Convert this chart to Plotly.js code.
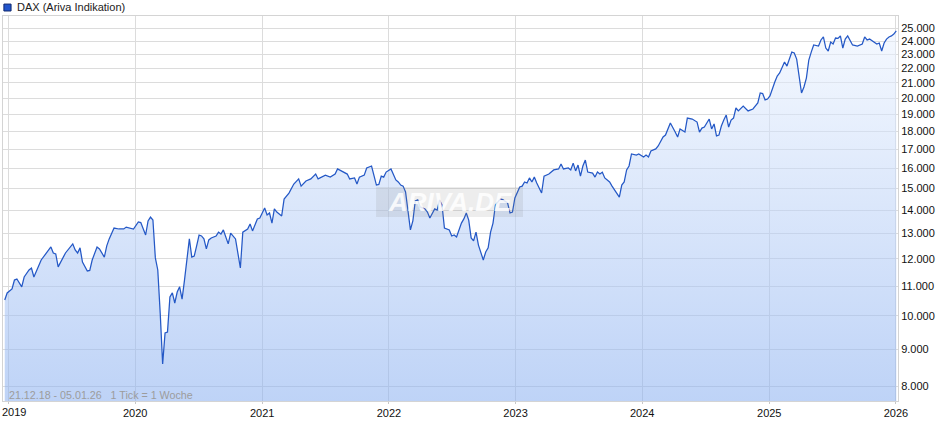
<!DOCTYPE html>
<html>
<head>
<meta charset="utf-8">
<script src="https://cdn.plot.ly/plotly-3.0.1.min.js"></script>
<style>html,body{margin:0;padding:0;background:#fff;}#chart{width:940px;height:435px;}</style>
</head>
<body>
<div id="chart"></div>
<script>
// Weekly DAX points (week index counted from 21.12.2018) and index level
const startDate = '2018-12-21';
const weekIdx = [0,1,3,4,5,7,8,10,11,12,15,17,19,20,21,22,24,25,28,29,30,31,32,34,35,36,38,39,41,42,43,45,47,49,50,52,53,55,56,58,59,60,61,62,63,64,65,66,67,68,69,70,71,72,73,74,75,76,77,78,79,80,81,82,83,84,85,86,87,88,89,90,92,93,95,97,98,100,101,102,104,105,107,108,109,110,111,112,114,115,117,119,121,122,124,126,128,129,131,132,134,136,137,140,141,142,144,145,146,148,149,151,153,154,155,156,157,159,161,162,163,164,165,167,168,169,170,171,173,174,175,177,178,179,180,181,183,184,185,186,188,189,190,191,192,193,194,195,197,198,199,200,201,202,204,205,207,208,209,210,212,213,214,215,216,217,218,219,221,222,224,226,228,229,230,232,233,234,235,236,237,238,239,240,242,243,244,245,246,247,249,250,252,253,254,255,256,257,258,260,261,263,264,265,266,268,269,271,272,274,276,277,278,280,281,283,285,286,287,288,290,291,292,293,294,295,296,297,298,299,300,301,302,303,304,306,308,310,311,312,313,314,315,317,318,319,321,322,323,324,325,326,328,329,330,331,332,333,335,336,337,338,339,340,341,342,343,344,345,346,347,348,349,351,353,354,355,356,358,359,360,361,362,363,364,365,366,367];
const daxValues = [10520,10760,10900,11210,11250,10970,11320,11575,11650,11320,11950,12220,12455,12220,12180,11690,12060,12220,12580,12336,12220,12420,11870,11540,11560,11950,12455,12380,12060,12500,12780,13230,13190,13190,13270,13230,13190,13490,13460,12940,13530,13700,13570,12030,11575,10090,8580,9470,9500,10620,10760,10420,10790,10970,10550,11210,11870,12780,12060,12100,12500,12940,12900,12780,12380,12740,12820,12860,12900,13060,12980,13150,12580,13020,12780,11650,13060,13190,13400,13110,13620,13660,14100,13790,13880,13440,14060,13920,13750,14510,14790,15220,15470,15120,15370,15470,15710,15470,15610,15660,15560,15710,15970,15760,15710,15470,15520,15220,15560,15660,16020,16120,15170,15200,15610,15560,15810,15970,15420,15320,15170,15120,14840,13150,13530,14420,14470,14150,14060,13920,13660,14060,14010,14470,14240,13230,13150,12900,12940,12860,13440,13620,13880,13570,12820,12700,13060,12530,11950,12260,12420,13060,13440,14240,14510,14480,14330,13880,13920,14560,15080,15120,15320,15270,15520,15320,15560,15270,14790,15610,15710,15920,15970,16220,15970,16020,15920,16270,15870,16170,15610,16120,16430,15810,15760,15560,15810,15710,15800,15520,15320,15120,14790,14600,15170,15320,15920,16120,16750,16690,16750,16590,16690,16590,16910,17020,17180,17680,17790,18490,17960,17680,18140,17960,18780,18720,18540,17960,18190,18250,18720,18140,18430,17740,17790,18310,18660,18960,18250,18660,18780,19390,19210,19390,19510,19210,19330,19700,20340,20300,19890,19950,20150,21060,21470,21680,22450,22160,22590,23170,23100,22660,20340,20730,21330,22590,23170,23700,23620,24080,24310,23470,23250,23920,23770,24230,24200,24390,23470,24150,24390,24000,23700,23620,23770,24310,24080,24150,23920,23770,23850,23250,23850,24150,24310,24390,24540,24780];

const yearTicks = ['2019-01-01','2020-01-01','2021-01-01','2022-01-01','2023-01-01','2024-01-01','2025-01-01','2026-01-01'];
const yearLabels = ['2019','2020','2021','2022','2023','2024','2025','2026'];
const priceTicks = [8000,9000,10000,11000,12000,13000,14000,15000,16000,17000,18000,19000,20000,21000,22000,23000,24000,25000];
const priceLabels = ['8.000','9.000','10.000','11.000','12.000','13.000','14.000','15.000','16.000','17.000','18.000','19.000','20.000','21.000','22.000','23.000','24.000','25.000'];
const xRange = ['2018-12-16','2026-01-07'];
const yRangeVals = [7627, 25990];
const baseLevel = 7000;
const legendText = 'DAX (Ariva Indikation)';
const footText = '21.12.18 - 05.01.26\u00a0\u00a0\u00a01 Tick = 1 Woche';

const t0 = Date.UTC(2018, 11, 21);
const dates = weekIdx.map(w => new Date(t0 + w * 7 * 86400000).toISOString().slice(0, 10));
// first year label sits at the left edge: drawn as an annotation so it stays fully visible
const axisTickText = yearLabels.map((s, i) => i === 0 ? '' : s);

const base = {
  x: [dates[0], dates[dates.length - 1]],
  y: [baseLevel, baseLevel],
  type: 'scatter', mode: 'lines',
  line: {width: 0, color: 'rgba(0,0,0,0)'},
  hoverinfo: 'skip', showlegend: false
};
const dax = {
  x: dates, y: daxValues,
  type: 'scatter', mode: 'lines',
  line: {color: '#2458c6', width: 1.25},
  fill: 'tonexty',
  fillgradient: {
    type: 'vertical',
    start: yRangeVals[0], stop: yRangeVals[1],
    colorscale: [[0, 'rgba(137,175,240,0.55)'], [1, 'rgba(240,246,255,0.55)']]
  },
  showlegend: false, name: 'DAX'
};

const layout = {
  width: 940, height: 435,
  margin: {l: 3, r: 42, t: 16, b: 34, pad: 0},
  paper_bgcolor: '#ffffff', plot_bgcolor: '#ffffff',
  font: {family: 'Liberation Sans, Arial, sans-serif', size: 11, color: '#111'},
  showlegend: false,
  xaxis: {
    type: 'date', range: xRange,
    tickvals: yearTicks, ticktext: axisTickText,
    showgrid: true, gridcolor: '#dcdcdc', gridwidth: 1,
    showline: true, linecolor: '#d4d4d4', linewidth: 1, mirror: true,
    ticks: 'outside', ticklen: 2, tickcolor: '#c8c8c8',
    zeroline: false, tickfont: {size: 11, color: '#111'}
  },
  yaxis: {
    type: 'log', side: 'right',
    range: [Math.log10(yRangeVals[0]), Math.log10(yRangeVals[1])],
    tickvals: priceTicks, ticktext: priceLabels,
    showgrid: true, gridcolor: '#dcdcdc', gridwidth: 1,
    showline: true, linecolor: '#d4d4d4', linewidth: 1, mirror: true,
    ticks: '', zeroline: false, tickfont: {size: 11, color: '#111'}
  },
  shapes: [
    {type: 'rect', xref: 'paper', yref: 'paper', x0: 0.001, x1: 0.009, y0: 1.013, y1: 1.031,
     fillcolor: '#2255cc', line: {color: '#10286e', width: 1}},
    {type: 'rect', xref: 'paper', yref: 'paper', x0: 0.4168, x1: 0.581, y0: 0.478, y1: 0.556,
     fillcolor: 'rgba(128,128,128,0.14)', line: {width: 0}, layer: 'above'}
  ],
  annotations: [
    {text: legendText, xref: 'paper', yref: 'paper', x: 0.0135, y: 1.0235, xanchor: 'left', yanchor: 'middle',
     showarrow: false, font: {size: 11, color: '#222'}},
    {text: footText, xref: 'paper', yref: 'paper', x: 0.005, y: 0.016, xanchor: 'left', yanchor: 'middle',
     showarrow: false, font: {size: 10.7, color: '#9c9c9c'}},
    {text: yearLabels[0], xref: 'paper', yref: 'paper', x: -0.0025, y: -0.029, xanchor: 'left', yanchor: 'middle',
     showarrow: false, font: {size: 11, color: '#111'}, borderpad: 0},
    {text: '<b><i>ARIVA.DE</i></b>', xref: 'paper', yref: 'paper', x: 0.499, y: 0.517, xanchor: 'center', yanchor: 'middle',
     showarrow: false, font: {size: 26, color: 'rgba(255,255,255,0.85)'}}
  ]
};

Plotly.newPlot('chart', [base, dax], layout, {staticPlot: true, displayModeBar: false});
</script>
</body>
</html>
